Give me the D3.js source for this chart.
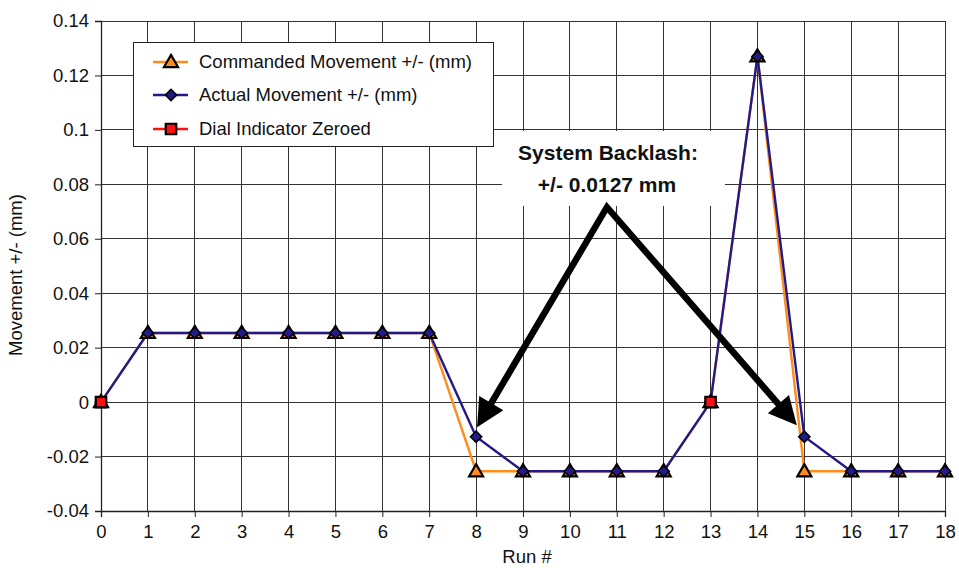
<!DOCTYPE html>
<html>
<head>
<meta charset="utf-8">
<script src="https://cdn.jsdelivr.net/npm/d3@7"></script>
<style>
  html, body { margin: 0; padding: 0; background: #fff; }
  svg text { font-family: "Liberation Sans", Arial, Helvetica, sans-serif; fill: #111; }
</style>
</head>
<body>
<svg id="chart" width="959" height="568"></svg>
<script>
// ---- data ----
const runs = [0,1,2,3,4,5,6,7,8,9,10,11,12,13,14,15,16,17,18];
const commanded = [0,0.0254,0.0254,0.0254,0.0254,0.0254,0.0254,0.0254,-0.0254,-0.0254,-0.0254,-0.0254,-0.0254,0,0.127,-0.0254,-0.0254,-0.0254,-0.0254];
const actual    = [0,0.0254,0.0254,0.0254,0.0254,0.0254,0.0254,0.0254,-0.0127,-0.0254,-0.0254,-0.0254,-0.0254,0,0.127,-0.0127,-0.0254,-0.0254,-0.0254];
const zeroedRuns = [0, 13];
const zeroedVals = [0, 0];
const yTicks = [-0.04,-0.02,0,0.02,0.04,0.06,0.08,0.1,0.12,0.14];
const yTickLabels = ["-0.04","-0.02","0","0.02","0.04","0.06","0.08","0.1","0.12","0.14"];
const seriesNames = ["Commanded Movement +/- (mm)","Actual Movement +/- (mm)","Dial Indicator Zeroed"];
const annotationLines = ["System Backlash:","+/- 0.0127 mm"];
// annotation arrow anchor points in data units: left tip, apex, right tip
const arrowX = [8.02, 10.79, 14.84];
const arrowY = [-0.0092, 0.0716, -0.0085];

// ---- layout ----
const W = 959, H = 568;
const m = {left: 101, right: 14, top: 21, bottom: 57};
const svg = d3.select("#chart");
const x = d3.scaleLinear().domain([0,18]).range([m.left, W - m.right]);
const y = d3.scaleLinear().domain([-0.04,0.14]).range([H - m.bottom, m.top]);

const orange = "#FF8C1A", navy = "#221A8A", red = "#FF1010";
const gridCol = "#333";
const fs = "18.5px";

// grid
const g = svg.append("g");
g.selectAll("line.vg").data(runs).join("line")
  .attr("x1", d => x(d)).attr("x2", d => x(d))
  .attr("y1", y(-0.04)).attr("y2", y(0.14))
  .attr("stroke", gridCol).attr("stroke-width", 1).attr("shape-rendering","crispEdges");
g.selectAll("line.hg").data(yTicks).join("line")
  .attr("x1", x(0)).attr("x2", x(18))
  .attr("y1", d => y(d)).attr("y2", d => y(d))
  .attr("stroke", gridCol).attr("stroke-width", 1).attr("shape-rendering","crispEdges");

// axes
const xAxis = d3.axisBottom(x).tickValues(runs).tickSize(6).tickPadding(8).tickFormat(d3.format("d"));
const yAxis = d3.axisLeft(y).tickValues(yTicks).tickSize(6).tickPadding(6).tickFormat((d,i) => yTickLabels[i]);
const xa = svg.append("g").attr("transform", `translate(0,${y(-0.04)})`).call(xAxis);
const ya = svg.append("g").attr("transform", `translate(${x(0)},0)`).call(yAxis);
[xa, ya].forEach(a => {
  a.select(".domain").attr("stroke", "#222").attr("stroke-width", 1.3);
  a.selectAll(".tick line").attr("stroke", "#222");
  a.selectAll(".tick text").style("font-size", fs).attr("fill", "#111");
});

// axis titles
svg.append("text").attr("x", (x(0)+x(18))/2 + 4).attr("y", 563)
  .attr("text-anchor","middle").style("font-size",fs).text("Run #");
svg.append("text").attr("transform", `translate(22,${(y(-0.04)+y(0.14))/2+9}) rotate(-90)`)
  .attr("text-anchor","middle").style("font-size",fs).text("Movement +/- (mm)");

// lines
const line = d3.line().x((d,i) => x(runs[i])).y(d => y(d));
svg.append("path").datum(commanded).attr("d", line).attr("fill","none").attr("stroke", orange).attr("stroke-width", 2.4);
svg.append("path").datum(actual).attr("d", line).attr("fill","none").attr("stroke", navy).attr("stroke-width", 2.4);

// markers
const tri = d3.symbol().type(d3.symbolTriangle).size(85);
const dia = d3.symbol().type(d3.symbolSquare).size(62);   // rotated 45° below -> square diamond
const sq = d3.symbol().type(d3.symbolSquare).size(110);
svg.selectAll("path.tri").data(commanded).join("path")
  .attr("d", tri).attr("transform", (d,i) => `translate(${x(runs[i])},${y(d)+1})`)
  .attr("fill", orange).attr("stroke", "#000").attr("stroke-width", 2.2);
svg.selectAll("path.dia").data(actual).join("path")
  .attr("d", dia).attr("transform", (d,i) => `translate(${x(runs[i])},${y(d)}) rotate(45)`)
  .attr("fill", navy).attr("stroke", "#000").attr("stroke-width", 1.6);
svg.selectAll("path.sq").data(zeroedVals).join("path")
  .attr("d", sq).attr("transform", (d,i) => `translate(${x(zeroedRuns[i])},${y(d)})`)
  .attr("fill", red).attr("stroke", "#000").attr("stroke-width", 2.2);

// legend
const lg = svg.append("g");
lg.append("rect").attr("x", 133.5).attr("y", 42.5).attr("width", 360).attr("height", 104)
  .attr("fill", "#fff").attr("stroke", "#222").attr("stroke-width", 1);
const legRows = [62, 95, 129];
const legCols = [orange, navy, red];
const legSyms = [tri, dia, sq];
const legRot = [0, 45, 0];
const legFill = [orange, navy, red];
const legSW = [2.2, 1.6, 2.2];
legRows.forEach((ry, i) => {
  lg.append("line").attr("x1", 153).attr("x2", 188).attr("y1", ry).attr("y2", ry)
    .attr("stroke", legCols[i]).attr("stroke-width", 2.4);
  lg.append("path").attr("d", legSyms[i]).attr("transform", `translate(171,${ry + (i===0?1:0)}) rotate(${legRot[i]})`)
    .attr("fill", legFill[i]).attr("stroke", "#000").attr("stroke-width", legSW[i]);
  lg.append("text").attr("x", 199).attr("y", ry + 6).style("font-size", fs).text(seriesNames[i]);
});

// annotation box
svg.append("rect").attr("x", 502).attr("y", 131).attr("width", 223).attr("height", 75).attr("fill", "#fff");
svg.append("text").attr("x", 608).attr("y", 160).attr("text-anchor","middle")
  .style("font-size","21px").style("font-weight","bold").text(annotationLines[0]);
svg.append("text").attr("x", 607).attr("y", 192).attr("text-anchor","middle")
  .style("font-size","21px").style("font-weight","bold").text(annotationLines[1]);

// arrows
const ap = arrowX.map((d,i) => [x(d), y(arrowY[i])]);
function shorten(p0, p1, len) {
  const dx = p1[0]-p0[0], dy = p1[1]-p0[1], L = Math.hypot(dx,dy);
  return [p1[0] - dx/L*len, p1[1] - dy/L*len];
}
const headLen = 28, headW = 14;
const l0 = shorten(ap[1], ap[0], headLen - 4);
const r0 = shorten(ap[1], ap[2], headLen - 4);
svg.append("path").attr("d", d3.line()([l0, ap[1], r0]))
  .attr("fill","none").attr("stroke","#000").attr("stroke-width", 6.5).attr("stroke-linejoin","miter").attr("stroke-miterlimit", 10);
function head(from, tip) {
  const dx = tip[0]-from[0], dy = tip[1]-from[1], L = Math.hypot(dx,dy);
  const ux = dx/L, uy = dy/L;
  const bx = tip[0] - ux*headLen, by = tip[1] - uy*headLen;
  const pts = [tip, [bx - uy*headW, by + ux*headW], [bx + uy*headW, by - ux*headW]];
  svg.append("path").attr("d", d3.line()(pts) + "Z").attr("fill", "#000");
}
head(ap[1], ap[0]);
head(ap[1], ap[2]);
</script>
</body>
</html>
